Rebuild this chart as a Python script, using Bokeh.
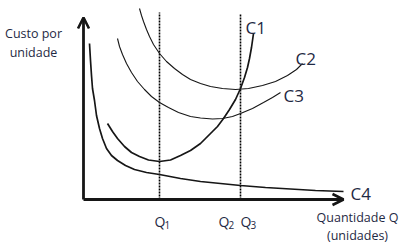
from bokeh.plotting import figure
from bokeh.models import Range1d, Arrow, OpenHead
from bokeh.core.properties import value
from bokeh.embed import file_html
from bokeh.resources import INLINE

# Curves (quantity, cost per unit)
c1_q = [2.4, 2.9, 3.4, 4.1, 4.8, 5.6, 6.5, 7.6, 8.7, 9.7, 10.7, 11.7, 12.7, 13.4, 14.0, 14.6, 15.2, 15.7, 16.1, 16.4, 16.6, 16.8, 17.0]
c1_c = [7.6, 6.8, 6.1, 5.3, 4.7, 4.3, 3.95, 3.8, 3.95, 4.4, 4.9, 5.6, 6.6, 7.3, 8.1, 9.0, 10.0, 11.1, 12.2, 13.2, 14.1, 15.2, 16.6]

c2_q = [5.6, 5.8, 6.0, 6.3, 6.6, 7.0, 7.6, 8.3, 9.1, 9.9, 10.7, 11.7, 12.7, 13.9, 15.2, 16.5, 17.9, 19.2, 20.4, 21.3, 21.9]
c2_c = [19.1, 18.4, 17.8, 17.0, 16.3, 15.5, 14.6, 13.8, 13.1, 12.5, 12.0, 11.6, 11.3, 11.1, 11.0, 11.1, 11.4, 11.8, 12.4, 13.0, 13.6]

c3_q = [3.4, 3.6, 3.9, 4.3, 4.8, 5.4, 6.1, 6.8, 7.6, 8.5, 9.5, 10.7, 11.7, 12.9, 13.9, 14.9, 15.7, 16.9, 18.0, 18.9, 19.7]
c3_c = [16.1, 15.3, 14.5, 13.6, 12.7, 11.8, 11.0, 10.3, 9.7, 9.2, 8.7, 8.3, 8.15, 8.05, 8.1, 8.3, 8.6, 9.1, 9.7, 10.2, 10.7]

c4_q = [0.6, 0.7, 0.8, 0.9, 1.1, 1.3, 1.6, 1.9, 2.3, 2.8, 3.4, 4.2, 5.1, 6.3, 7.6, 9.7, 11.7, 13.7, 15.7, 18.2, 20.7, 23.2, 26.0]
c4_c = [15.6, 13.9, 12.4, 11.1, 9.9, 8.4, 7.1, 6.1, 5.1, 4.4, 3.9, 3.4, 3.0, 2.7, 2.5, 2.1, 1.8, 1.6, 1.4, 1.2, 1.05, 0.9, 0.8]

q_marks = [7.6, 15.7]          # Q1, Q3 dotted lines
q_top = [18.7, 18.6]
q_names = ["Q", "Q", "Q"]
q_subs = ["1", "2", "3"]
curve_names = ["C1", "C2", "C3", "C4"]
y_label = ["Custo por", "unidade"]
x_label = ["Quantidade Q", "(unidades)"]

TXT = "#1f2a44"
INK = "#161616"
FONT = value("Open Sans")

p = figure(width=401, height=243, output_backend="svg", toolbar_location=None,
           x_range=Range1d(-8.3, 31.8), y_range=Range1d(-4.4, 19.9),
           min_border=0, background_fill_color="white", border_fill_color="white")
p.axis.visible = False
p.grid.visible = False
p.outline_line_color = None

# dotted guide lines
p.segment(x0=q_marks, y0=[0, 0], x1=q_marks, y1=q_top, line_color="#000000",
          line_width=1.6, line_dash="2 1")

# curves
p.line(c2_q, c2_c, line_color=INK, line_width=1.1)
p.line(c3_q, c3_c, line_color=INK, line_width=1.1)
p.line(c1_q, c1_c, line_color=INK, line_width=1.7)
p.line(c4_q, c4_c, line_color=INK, line_width=1.7)

# axes with arrows
p.add_layout(Arrow(end=OpenHead(size=11, line_width=2.6, line_color=INK),
                   x_start=0, y_start=0, x_end=0, y_end=18.2,
                   line_width=2.8, line_color=INK))
p.add_layout(Arrow(end=OpenHead(size=11, line_width=2.6, line_color=INK),
                   x_start=0, y_start=0, x_end=26.0, y_end=0,
                   line_width=2.8, line_color=INK))

# curve labels
p.text(x=[16.2, 21.2, 20.0, 26.7], y=[17.2, 14.1, 10.4, 0.6], text=curve_names,
       text_font=FONT, text_font_size=value("17px"), text_color=TXT,
       text_align="left", text_baseline="alphabetic")

# Q labels
p.text(x=[7.1, 13.5, 15.7], y=[-2.2, -2.2, -2.2], text=q_names,
       text_font=FONT, text_font_size=value("14px"), text_color=TXT,
       text_align="left", text_baseline="alphabetic")
p.text(x=[8.1, 14.5, 16.7], y=[-2.5, -2.5, -2.5], text=q_subs,
       text_font=FONT, text_font_size=value("10px"), text_color=TXT,
       text_align="left", text_baseline="alphabetic")

# axis titles
p.text(x=[-5.0, -5.0], y=[16.6, 14.7], text=y_label,
       text_font=FONT, text_font_size=value("12.5px"), text_color=TXT,
       text_align="center", text_baseline="alphabetic")
p.text(x=[27.4, 27.4], y=[-1.8, -3.55], text=x_label,
       text_font=FONT, text_font_size=value("12.5px"), text_color=TXT,
       text_align="center", text_baseline="alphabetic")

open("out.html", "w").write(file_html(p, INLINE))
